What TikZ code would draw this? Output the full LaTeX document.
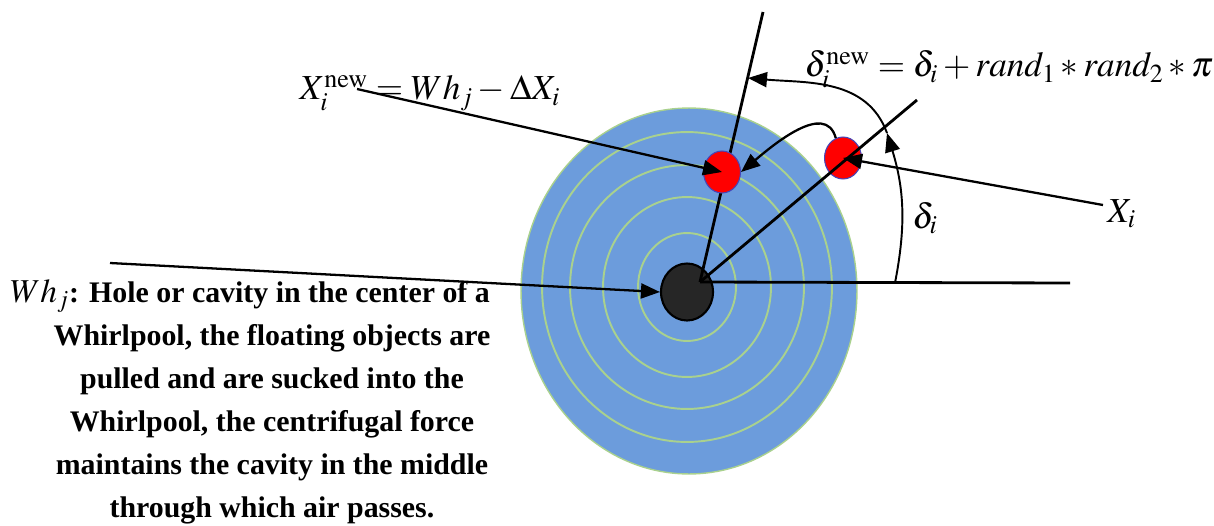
\documentclass[tikz,border=0pt]{standalone}
\usepackage{mathptmx}
\usepackage[no-math]{fontspec}
\setmainfont{Liberation Serif}
\usepackage{tikz}
\usetikzlibrary{arrows.meta,shapes.geometric}
\definecolor{poolblue}{HTML}{6C9CDC}
\definecolor{ringgreen}{HTML}{A9D18E}
\definecolor{holegray}{HTML}{262626}
\tikzset{
    wp pool/.style={ellipse, draw=ringgreen, line width=0.8pt, fill=poolblue, inner sep=0pt},
    wp ring/.style={ellipse, draw=ringgreen, line width=1.1pt, inner sep=0pt},
    wp hole/.style={
        ellipse,
        draw=black,
        line width=1.2pt,
        fill=holegray,
        minimum width=1.04cm,
        minimum height=1.14cm,
        inner sep=0pt
    },
    wp object/.style={
        ellipse,
        draw=blue!45!gray,
        line width=0.6pt,
        fill=red,
        minimum width=0.74cm,
        minimum height=0.84cm,
        inner sep=0pt
    },
    wp line/.style={line width=1.6pt, draw=black},
    wp arrow/.style={-{Triangle[length=0.38cm, width=0.3cm]}, line width=1.3pt, draw=black},
    wp math/.style={font=\fontsize{20}{24}\selectfont, inner sep=0pt},
    wp text/.style={font=\fontsize{17}{24.5}\selectfont\bfseries, align=center, inner sep=0pt}
}

\begin{document}
\begin{tikzpicture}[x=0.02cm, y=0.02cm]
\useasboundingbox (0,0) rectangle (1214,525);
% whirlpool
\node[wp pool, minimum width=6.72cm, minimum height=7.32cm] (pool) at (689,234) {};
\foreach \rx/\ry in {49/54, 84/90, 117/122, 145/155}
    \node[wp ring, minimum width=\rx*0.04cm, minimum height=\ry*0.04cm] (ring-\rx) at (687,238) {};
\node[wp hole] (hole) at (687,233) {};

% rays from the centre
\coordinate (o) at (700,243);
\coordinate (top) at (763,513);
\coordinate (diag) at (917,425);
\coordinate (hor) at (1070,242);
\draw[wp line] (o) -- (top);
\node[wp object] (obj new) at (722,353) {};
\node[wp object] (obj old) at (843,367) {};
\draw[wp line] (o) -- (diag);
\draw[wp line] (o) -- (hor);

% angles
\coordinate (d start) at (895,242);
\coordinate (d tip) at (887,392);
\coordinate (top hit) at (748,447);
\draw[wp arrow, line width=1.1pt] (d start) to[bend right=14] (d tip);
\draw[wp arrow, line width=1.1pt] (d tip) to[out=110, in=-5] (top hit);

% labels
\node[wp math, anchor=base] (xnew) at (430,425) {$X_i^{\mathrm{new}} = Wh_j - \Delta X_i$};
\node[wp math, anchor=base] (dnew) at (1009,448) {$\delta_i^{\mathrm{new}} = \delta_i + rand_1 * rand_2 * \pi$};
\node[wp math, anchor=base west] (xi) at (1107,303) {$X_i$};
\node[wp math, anchor=base west] (di) at (912,297) {$\delta_i$};
\coordinate (xnew foot) at (357,436);
\coordinate (xi foot) at (1103,320);
\coordinate (wh foot) at (110,262);
\draw[wp arrow] (xnew foot) -- (obj new.center);
\draw[wp arrow] (xi foot) -- (obj old.center);
\draw[wp arrow] (obj old.110) to[out=105, in=40] (obj new.east);
\draw[wp arrow] (wh foot) -- (hole.west);

% description
\node[wp text, anchor=north] (desc) at (272,246) {{\fontsize{19}{24.5}\selectfont$Wh_j$}: Hole or cavity in the center of a\hspace*{0.88cm}\\
    Whirlpool, the floating objects are\\
    pulled and are sucked into the\\
    Whirlpool, the centrifugal force\\
    maintains the cavity in the middle\\
    through which air passes.};
\end{tikzpicture}
\end{document}
